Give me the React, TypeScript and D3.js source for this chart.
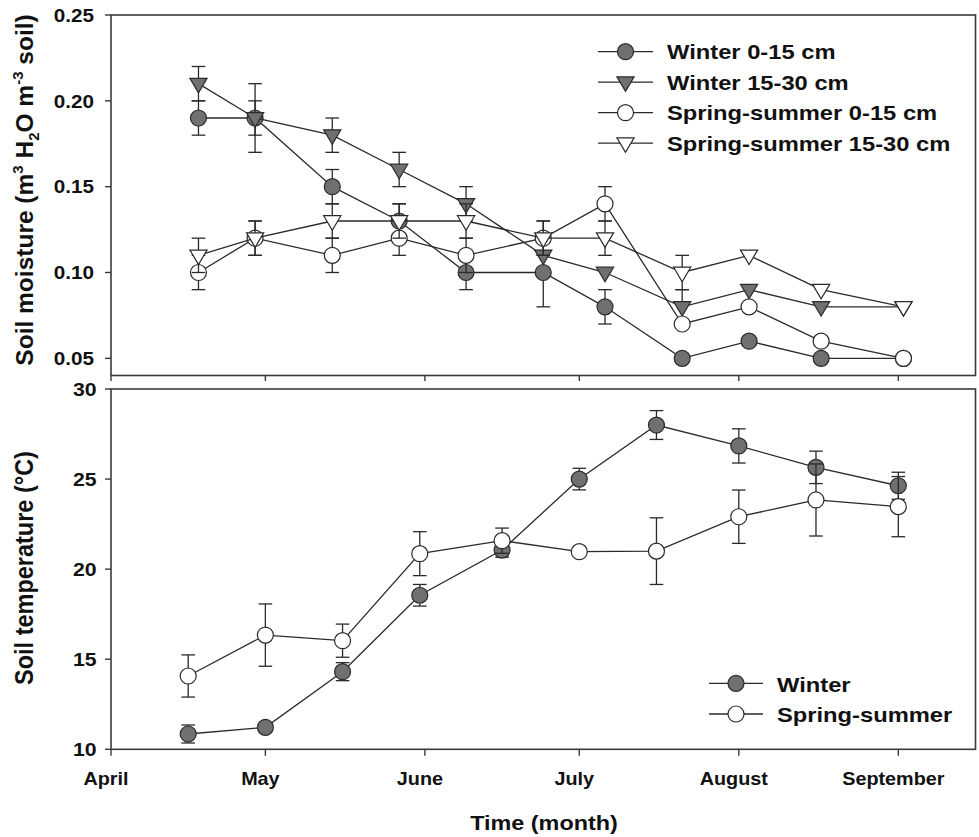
import React from "react";
import * as d3 from "d3";

// ---------- data ----------
const monthTicks = ["2000-04-01", "2000-05-01", "2000-06-01", "2000-07-01", "2000-08-01", "2000-09-01"];
const monthLabels = ["April", "May", "June", "July", "August", "September"];

const moistureDates = ["2000-04-18", "2000-04-29", "2000-05-14", "2000-05-27", "2000-06-09", "2000-06-24", "2000-07-06", "2000-07-21", "2000-08-03", "2000-08-17", "2000-09-02"];
const winter015 = [0.19, 0.19, 0.15, 0.13, 0.10, 0.10, 0.08, 0.05, 0.06, 0.05, 0.05];
const winter015Err = [0.01, 0.01, 0.01, 0.01, 0.01, 0.02, 0.01, 0, 0, 0, 0];
const winter1530 = [0.21, 0.19, 0.18, 0.16, 0.14, 0.11, 0.10, 0.08, 0.09, 0.08, 0.08];
const winter1530Err = [0.01, 0.02, 0.01, 0.01, 0.01, 0, 0, 0.01, 0, 0, 0];
const spring015 = [0.10, 0.12, 0.11, 0.12, 0.11, 0.12, 0.14, 0.07, 0.08, 0.06, 0.05];
const spring015Err = [0.01, 0.01, 0.01, 0.01, 0.01, 0.01, 0.01, 0, 0, 0, 0];
const spring1530 = [0.11, 0.12, 0.13, 0.13, 0.13, 0.12, 0.12, 0.10, 0.11, 0.09, 0.08];
const spring1530Err = [0.01, 0.01, 0.01, 0.01, 0.01, 0.01, 0.01, 0.01, 0, 0, 0];
const moistureTicks = [0.05, 0.10, 0.15, 0.20, 0.25];
const moistureTickLabels = ["0.05", "0.10", "0.15", "0.20", "0.25"];
const moistureLegend = ["Winter 0-15 cm", "Winter 15-30 cm", "Spring-summer 0-15 cm", "Spring-summer 15-30 cm"];

const tempDates = ["2000-04-16", "2000-05-01", "2000-05-16", "2000-05-31", "2000-06-16", "2000-07-01", "2000-07-16", "2000-08-01", "2000-08-16", "2000-09-01"];
const winterTemp = [10.85, 11.22, 14.31, 18.55, 21.06, 25.0, 28.0, 26.84, 25.65, 24.63];
const winterTempErr = [0.5, 0.2, 0.5, 0.6, 0.4, 0.6, 0.8, 0.95, 0.9, 0.75];
const springTemp = [14.07, 16.34, 16.03, 20.86, 21.58, 20.97, 21.0, 22.91, 23.84, 23.47];
const springTempErr = [1.17, 1.73, 0.92, 1.22, 0.7, 0.2, 1.85, 1.48, 2.0, 1.67];
const tempTicks = [10, 15, 20, 25, 30];
const tempTickLabels = ["10", "15", "20", "25", "30"];
const tempLegend = ["Winter", "Spring-summer"];

// ---------- styling ----------
const FONT = "'Liberation Sans', Arial, Helvetica, sans-serif";
const GRAY = "#707070";
const INK = "#2a2a2a";
const FRAME = "#3a3a3a";

const parse = d3.utcParse("%Y-%m-%d");

const L = 111, R = 975.5;
const topT = 15, topB = 375.5;
const botT = 389, botB = 749.3;

const x = d3.scaleUtc().domain([parse("2000-04-01")!, parse("2000-09-16")!]).range([L, R]);
const yM = d3.scaleLinear().domain([0.04, 0.25]).range([topB, topT]);
const yT = d3.scaleLinear().domain([10, 30]).range([botB, botT]);

type Shape = "circle" | "tri";
type Series = { dates: string[]; vals: number[]; errs: number[]; fill: string; shape: Shape };

const moistureSeries: Series[] = [
  { dates: moistureDates, vals: winter015, errs: winter015Err, fill: GRAY, shape: "circle" },
  { dates: moistureDates, vals: winter1530, errs: winter1530Err, fill: GRAY, shape: "tri" },
  { dates: moistureDates, vals: spring015, errs: spring015Err, fill: "#fff", shape: "circle" },
  { dates: moistureDates, vals: spring1530, errs: spring1530Err, fill: "#fff", shape: "tri" },
];
const tempSeries: Series[] = [
  { dates: tempDates, vals: winterTemp, errs: winterTempErr, fill: GRAY, shape: "circle" },
  { dates: tempDates, vals: springTemp, errs: springTempErr, fill: "#fff", shape: "circle" },
];

function Marker({ cx, cy, shape, fill }: { cx: number; cy: number; shape: Shape; fill: string }) {
  if (shape === "circle") {
    return <circle cx={cx} cy={cy} r={8} fill={fill} stroke={INK} strokeWidth={1.2} />;
  }
  const hw = 8.6, up = 5.3, dn = 9.2;
  const d = `M${cx - hw},${cy - up}L${cx + hw},${cy - up}L${cx},${cy + dn}Z`;
  return <path d={d} fill={fill} stroke={INK} strokeWidth={1.2} strokeLinejoin="miter" />;
}

function Txt({ x: tx, y: ty, size, sx = 1.13, anchor = "start", rotate = false, children }: any) {
  return (
    <text
      transform={`translate(${tx},${ty}) scale(${sx},1)${rotate ? " rotate(-90)" : ""}`}
      textAnchor={anchor}
      fontSize={size}
      fontWeight="bold"
      fontFamily={FONT}
      fill="#111"
    >
      {children}
    </text>
  );
}

function SeriesLayer({ s, y }: { s: Series; y: d3.ScaleLinear<number, number> }) {
  const pts = s.dates.map((d, i) => ({ date: parse(d)!, v: s.vals[i], e: s.errs[i] }));
  const line = d3
    .line<{ date: Date; v: number }>()
    .x((d) => x(d.date))
    .y((d) => y(d.v));
  const cap = 6.8;
  return (
    <g>
      <path d={line(pts) || ""} fill="none" stroke={INK} strokeWidth={1.3} />
      {pts.map((p, i) =>
        p.e > 0 ? (
          <g key={"e" + i} stroke={INK} strokeWidth={1.3}>
            <line x1={x(p.date)} x2={x(p.date)} y1={y(p.v + p.e)} y2={y(p.v - p.e)} />
            <line x1={x(p.date) - cap} x2={x(p.date) + cap} y1={y(p.v + p.e)} y2={y(p.v + p.e)} />
            <line x1={x(p.date) - cap} x2={x(p.date) + cap} y1={y(p.v - p.e)} y2={y(p.v - p.e)} />
          </g>
        ) : null
      )}
      {pts.map((p, i) => (
        <Marker key={"m" + i} cx={x(p.date)} cy={y(p.v)} shape={s.shape} fill={s.fill} />
      ))}
    </g>
  );
}

export default function App() {
  const months = monthTicks.map((d) => parse(d)!);
  return (
    <svg
      width={979}
      height={837}
      viewBox="0 0 979 837"
      style={{ position: "absolute", left: 0, top: 0, background: "#fff" }}
    >
      <rect x={0} y={0} width={979} height={837} fill="#fff" />

      {/* ---------- top panel ---------- */}
      <rect x={L} y={topT} width={R - L} height={topB - topT} fill="none" stroke={FRAME} strokeWidth={1.6} />
      {moistureTicks.map((t, i) => (
        <g key={"ym" + i}>
          <line x1={L - 6} x2={L} y1={yM(t)} y2={yM(t)} stroke={FRAME} strokeWidth={1.4} />
          <Txt x={94} y={yM(t) + 6.7} size={18} sx={1.15} anchor="end">
            {moistureTickLabels[i]}
          </Txt>
        </g>
      ))}
      {months.map((m, i) => (
        <line key={"xt" + i} x1={x(m)} x2={x(m)} y1={topB} y2={topB + 5.5} stroke={FRAME} strokeWidth={1.4} />
      ))}
      {moistureSeries.map((s, i) => (
        <SeriesLayer key={"ms" + i} s={s} y={yM} />
      ))}
      {moistureSeries.map((s, i) => {
        const cy = 51.7 + i * 30.5;
        return (
          <g key={"lg" + i}>
            <line x1={598} x2={653} y1={cy} y2={cy} stroke={INK} strokeWidth={1.3} />
            <Marker cx={625.5} cy={cy} shape={s.shape} fill={s.fill} />
            <Txt x={667} y={cy + 7.6} size={21} sx={1.13}>
              {moistureLegend[i]}
            </Txt>
          </g>
        );
      })}
      <text
        transform={`translate(33,190) scale(1.0,1) rotate(-90)`}
        textAnchor="middle"
        fontSize={24.5}
        fontWeight="bold"
        fontFamily={FONT}
        fill="#111"
      >
        Soil moisture (m
        <tspan dy={-10} fontSize={15}>3</tspan>
        <tspan dy={10}> H</tspan>
        <tspan dy={6} fontSize={15}>2</tspan>
        <tspan dy={-6}>O m</tspan>
        <tspan dy={-10} fontSize={15}>-3</tspan>
        <tspan dy={10}> soil)</tspan>
      </text>

      {/* ---------- bottom panel ---------- */}
      <rect x={L} y={botT} width={R - L} height={botB - botT} fill="none" stroke={FRAME} strokeWidth={1.6} />
      {tempTicks.map((t, i) => (
        <g key={"yt" + i}>
          <line x1={L - 6} x2={L} y1={yT(t)} y2={yT(t)} stroke={FRAME} strokeWidth={1.4} />
          <Txt x={96.5} y={yT(t) + 7} size={18} sx={1.18} anchor="end">
            {tempTickLabels[i]}
          </Txt>
        </g>
      ))}
      {months.map((m, i) => (
        <g key={"xb" + i}>
          <line x1={x(m)} x2={x(m)} y1={botB} y2={botB + 6.5} stroke={FRAME} strokeWidth={1.4} />
          <Txt x={x(m) - 5} y={785} size={18} sx={1.1} anchor="middle">
            {monthLabels[i]}
          </Txt>
        </g>
      ))}
      {tempSeries.map((s, i) => (
        <SeriesLayer key={"ts" + i} s={s} y={yT} />
      ))}
      {tempSeries.map((s, i) => {
        const cy = 683.3 + i * 30.7;
        return (
          <g key={"lt" + i}>
            <line x1={709} x2={763} y1={cy} y2={cy} stroke={INK} strokeWidth={1.3} />
            <Marker cx={736} cy={cy} shape={s.shape} fill={s.fill} />
            <Txt x={777} y={cy + 8.4} size={21} sx={1.13}>
              {tempLegend[i]}
            </Txt>
          </g>
        );
      })}
      <Txt x={33} y={568} size={23.5} sx={1.1} anchor="middle" rotate>
        Soil temperature (°C)
      </Txt>

      <Txt x={544} y={829.5} size={20} sx={1.17} anchor="middle">
        Time (month)
      </Txt>
    </svg>
  );
}
